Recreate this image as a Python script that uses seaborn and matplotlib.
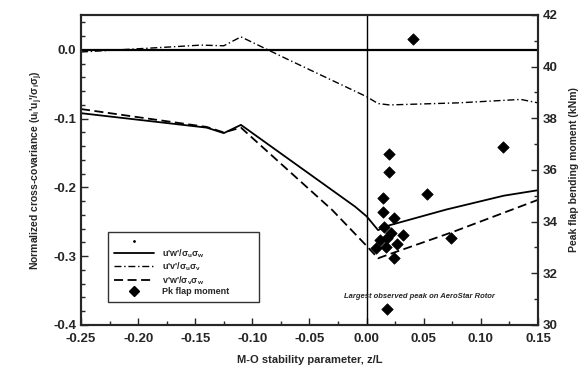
import numpy as np
import pandas as pd
import seaborn as sns
import matplotlib.pyplot as plt
from matplotlib.ticker import MultipleLocator, FormatStrFormatter
from matplotlib.lines import Line2D

# data
uw_x = [-0.25, -0.14, -0.125, -0.11, -0.01, 0.0, 0.01, 0.02, 0.07, 0.12, 0.15]
uw_y = [-0.092, -0.113, -0.121, -0.109, -0.228, -0.242, -0.262, -0.255, -0.232, -0.212, -0.204]

uv_x = [-0.25, -0.175, -0.145, -0.125, -0.11, -0.09, -0.07, 0.0, 0.01, 0.02, 0.08, 0.135, 0.15]
uv_y = [-0.003, 0.004, 0.007, 0.006, 0.019, 0.003, -0.013, -0.068, -0.078, -0.08, -0.077, -0.072, -0.077]

vw_x = [-0.25, -0.14, -0.125, -0.11, -0.03, 0.0, 0.01, 0.02, 0.075, 0.15]
vw_y = [-0.086, -0.112, -0.12, -0.113, -0.233, -0.285, -0.303, -0.297, -0.265, -0.218]

pk_x = [0.041, 0.020, 0.020, 0.119, 0.053, 0.014, 0.014, 0.024, 0.015, 0.021,
        0.032, 0.012, 0.027, 0.008, 0.017, 0.018, 0.024, 0.074, 0.018]
pk_y = [41.07, 36.62, 35.92, 36.89, 35.07, 34.92, 34.38, 34.14, 33.80, 33.56,
        33.49, 33.29, 33.14, 32.98, 33.02, 33.37, 32.59, 33.37, 30.62]

sns.set_style("ticks")
plt.rcParams['font.family'] = ['Liberation Sans', 'DejaVu Sans']
plt.rcParams['font.weight'] = 'bold'
plt.rcParams['axes.unicode_minus'] = False
plt.rcParams['mathtext.default'] = 'regular'

fig = plt.figure(figsize=(5.87, 3.71), dpi=100)
ax = fig.add_axes([0.138, 0.124, 0.7785, 0.836])

df_uw = pd.DataFrame({"x": uw_x, "y": uw_y})
df_uv = pd.DataFrame({"x": uv_x, "y": uv_y})
df_vw = pd.DataFrame({"x": vw_x, "y": vw_y})
df_pk = pd.DataFrame({"x": pk_x, "y": pk_y})

sns.lineplot(data=df_uw, x="x", y="y", ax=ax, color="black", lw=1.3, sort=False)
sns.lineplot(data=df_uv, x="x", y="y", ax=ax, color="black", lw=1.0, sort=False,
             linestyle=(0, (5, 2, 1, 2)))
sns.lineplot(data=df_vw, x="x", y="y", ax=ax, color="black", lw=1.3, sort=False,
             linestyle=(0, (5, 2.5)))

ax.axhline(0, color="black", lw=1.6)
ax.axvline(0, color="black", lw=1.0)

ax.set_xlim(-0.25, 0.15)
ax.set_ylim(-0.4, 0.051)
ax.xaxis.set_major_locator(MultipleLocator(0.05))
ax.xaxis.set_minor_locator(MultipleLocator(0.025))
ax.xaxis.set_major_formatter(FormatStrFormatter('%.2f'))
ax.yaxis.set_major_locator(MultipleLocator(0.1))
ax.yaxis.set_minor_locator(MultipleLocator(0.02))
ax.yaxis.set_major_formatter(FormatStrFormatter('%.1f'))
ax.tick_params(which="both", direction="in", labelsize=9.5, width=1)
ax.tick_params(which="major", length=5)
ax.tick_params(which="minor", length=3)
ax.tick_params(axis="x", which="major", pad=6)
for lab in ax.get_xticklabels() + ax.get_yticklabels():
    lab.set_fontweight("bold")

ax.set_xlabel("M-O stability parameter, z/L", fontsize=8, fontweight="bold", labelpad=7)
ax.set_ylabel(r"Normalized cross-covariance (u$_i$'u$_j$'/$\sigma_i\sigma_j$)",
              fontsize=7.5, fontweight="bold", labelpad=6)
for s in ax.spines.values():
    s.set_linewidth(1.5)

ax2 = ax.twinx()
sns.scatterplot(data=df_pk, x="x", y="y", ax=ax2, marker="D", s=34,
                color="black", edgecolor="black", linewidth=0.5, zorder=5)
ax2.set_ylim(30, 42)
ax2.yaxis.set_major_locator(MultipleLocator(2))
ax2.yaxis.set_minor_locator(MultipleLocator(1))
ax2.tick_params(which="both", direction="in", labelsize=9.5, width=1)
ax2.tick_params(which="major", length=5)
ax2.tick_params(which="minor", length=3)
for lab in ax2.get_yticklabels():
    lab.set_fontweight("bold")
# lift the lowest label a bit so it clears "0.15"
ax2.get_yticklabels()[0].set_verticalalignment("bottom")
ax2.set_ylabel("Peak flap bending moment (kNm)", fontsize=7.5, fontweight="bold", labelpad=8)
ax2.set_xlabel("")
for s in ax2.spines.values():
    s.set_linewidth(1.5)

ax2.text(0.046, 31.1, "Largest observed peak on AeroStar Rotor", ha="center", va="center",
         fontsize=5.5, fontstyle="italic", fontweight="bold")

handles = [
    Line2D([], [], color="black", marker=".", markersize=2, linestyle="none"),
    Line2D([], [], color="black", lw=1.3),
    Line2D([], [], color="black", lw=1.0, linestyle=(0, (5, 2, 1, 2))),
    Line2D([], [], color="black", lw=1.3, linestyle=(0, (5, 2.5))),
    Line2D([], [], color="black", marker="D", markersize=5, linestyle="none"),
]
labels = [" ",
          r"u'w'/$\sigma_u\sigma_w$",
          r"u'v'/$\sigma_u\sigma_v$",
          r"v'w'/$\sigma_v\sigma_w$",
          "Pk flap moment"]
leg = ax2.legend(handles, labels, loc="lower left", bbox_to_anchor=(0.05, 0.06, 0.35, 0.27),
                 mode="expand", fontsize=6.5, frameon=True, fancybox=False,
                 edgecolor="black", handlelength=4.5, labelspacing=0.1, borderpad=0.6)
leg.get_frame().set_linewidth(1.0)
for t in leg.get_texts():
    t.set_fontweight("bold")

fig.savefig("out.png", dpi=100)
